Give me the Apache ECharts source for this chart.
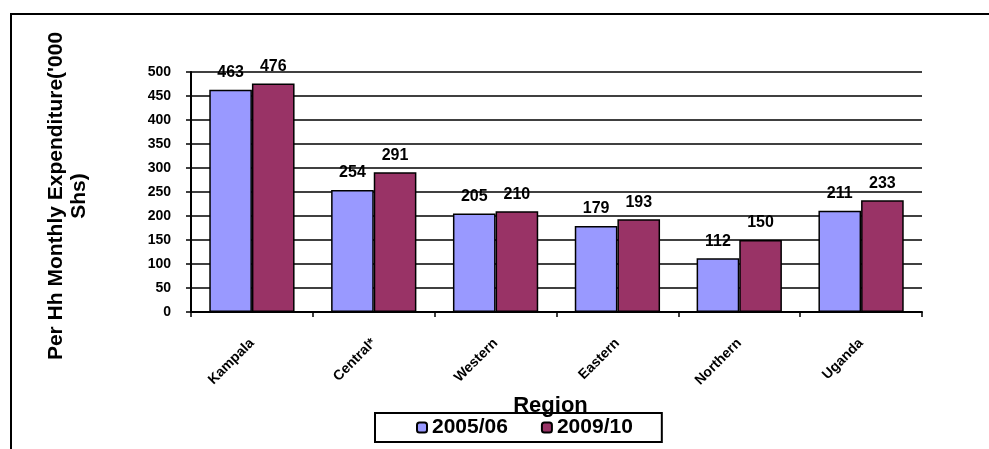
<!DOCTYPE html>
<html>
<head>
<meta charset="utf-8">
<script src="https://cdn.jsdelivr.net/npm/echarts@6/dist/echarts.min.js"></script>
<style>
  html, body { margin: 0; padding: 0; background: #fff; }
  #chart { width: 989px; height: 449px; }
</style>
</head>
<body>
<div id="chart"></div>
<script>
// 数据
var regions = ['Kampala', 'Central*', 'Western', 'Eastern', 'Northern', 'Uganda'];
var seriesNames = ['2005/06', '2009/10'];
var values0506 = [463, 254, 205, 179, 112, 211];
var values0910 = [476, 291, 210, 193, 150, 233];

var chart = echarts.init(document.getElementById('chart'));

var font = 'Liberation Sans, Arial, sans-serif';

function bar(name, data, color) {
    return {
        name: name,
        type: 'bar',
        data: data,
        barGap: '0%',
        barCategoryGap: '30%',
        itemStyle: { color: color, borderColor: '#000', borderWidth: 1.5 },
        label: {
            show: true,
            position: 'top',
            distance: 9,
            color: '#000',
            fontFamily: font,
            fontWeight: 'bold',
            fontSize: 16
        }
    };
}

var option = {
    animation: false,
    backgroundColor: '#fff',
    textStyle: { fontFamily: font },
    grid: { left: 191, top: 72, right: 67, bottom: 137 },
    legend: {
        data: seriesNames,
        left: 375,
        top: 413,
        itemWidth: 10,
        itemHeight: 10,
        itemGap: 33,
        padding: [4, 29, 4, 41],
        borderColor: '#000',
        borderWidth: 2,
        textStyle: { fontFamily: font, fontWeight: 'bold', fontSize: 21, color: '#000' }
    },
    xAxis: {
        type: 'category',
        data: regions,
        name: 'Region',
        nameLocation: 'middle',
        nameGap: 82,
        nameTextStyle: { fontFamily: font, fontWeight: 'bold', fontSize: 22, color: '#000', padding: [0, 12, 0, 0] },
        axisLine: { lineStyle: { color: '#000', width: 2 } },
        axisTick: { show: true, length: 5, lineStyle: { color: '#000', width: 1.5 } },
        axisLabel: { rotate: 45, margin: 29, color: '#000', fontFamily: font, fontWeight: 'bold', fontSize: 14 }
    },
    yAxis: {
        type: 'value',
        min: 0,
        max: 500,
        interval: 50,
        name: "Per Hh Monthly Expenditure('000\nShs)",
        nameLocation: 'middle',
        nameRotate: 90,
        nameGap: 100,
        nameTextStyle: { fontFamily: font, fontWeight: 'bold', fontSize: 21, color: '#000', lineHeight: 23, align: 'center', padding: [0, 8, 0, 0] },
        axisLine: { show: true, lineStyle: { color: '#000', width: 2 } },
        axisTick: { show: true, length: 5, lineStyle: { color: '#000', width: 1.5 } },
        axisLabel: { margin: 20, color: '#000', fontFamily: font, fontWeight: 'bold', fontSize: 14 },
        splitLine: { lineStyle: { color: '#000', width: 1.5 } }
    },
    // 外框
    graphic: [{
        type: 'rect',
        shape: { x: 11, y: 14, width: 1200, height: 600 },
        style: { fill: 'none', stroke: '#000', lineWidth: 2 },
        silent: true
    }],
    series: [
        bar(seriesNames[0], values0506, '#9999FF'),
        bar(seriesNames[1], values0910, '#993366')
    ]
};

chart.setOption(option);
</script>
</body>
</html>
